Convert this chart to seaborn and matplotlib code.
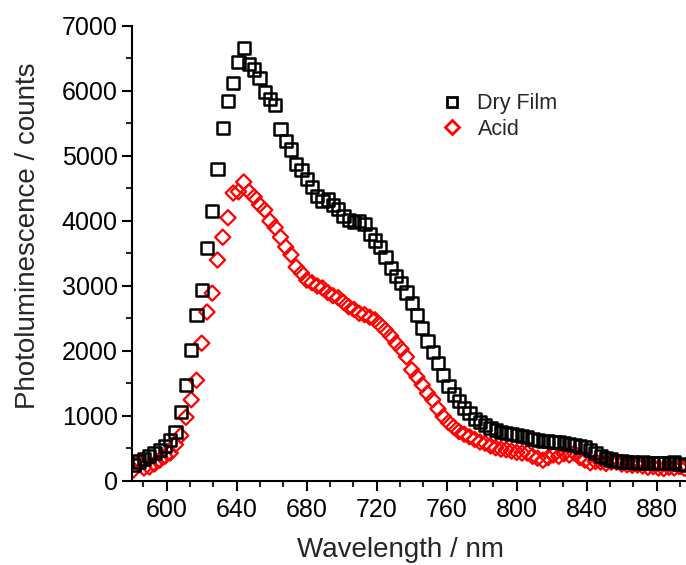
import numpy as np
import pandas as pd
import matplotlib
matplotlib.use("Agg")
import matplotlib.pyplot as plt
from matplotlib.ticker import AutoMinorLocator
from matplotlib.lines import Line2D
import seaborn as sns

wavelength = list(range(581, 897, 3))

dry_film = [
    250, 300, 340, 380, 430, 480, 540, 630, 760, 1060,
    1480, 2020, 2550, 2940, 3580, 4150, 4800, 5430, 5850, 6120,
    6450, 6660, 6420, 6330, 6200, 5990, 5880, 5780, 5420, 5230,
    5100, 4880, 4790, 4650, 4520, 4380, 4310, 4330, 4250, 4180,
    4080, 4020, 3990, 4000, 3950, 3800, 3700, 3600, 3450, 3270,
    3150, 3050, 2900, 2740, 2550, 2360, 2150, 1990, 1810, 1630,
    1460, 1330, 1230, 1120, 1040, 960, 910, 860, 820, 780,
    760, 740, 720, 710, 690, 670, 650, 630, 620, 610,
    600, 600, 590, 570, 550, 530, 520, 480, 430, 380,
    350, 330, 310, 300, 290, 290, 280, 290, 280, 280,
    270, 280, 270, 290, 260, 250,
]

acid = [
    170, 280, 200, 215, 260, 320, 380, 430, 560, 700,
    980, 1250, 1550, 2120, 2600, 2890, 3400, 3750, 4050, 4430,
    4450, 4600, 4450, 4370, 4250, 4170, 4000, 3900, 3750, 3600,
    3480, 3290, 3200, 3090, 3050, 3000, 2970, 2900, 2850, 2820,
    2750, 2680, 2640, 2580, 2560, 2520, 2480, 2400, 2320, 2230,
    2120, 2030, 1910, 1710, 1600, 1480, 1350, 1250, 1110, 990,
    900, 830, 760, 720, 680, 640, 600, 580, 540, 510,
    490, 480, 460, 440, 430, 430, 380, 350, 320, 360,
    400, 380, 420, 400, 430, 360, 320, 280, 300, 290,
    270, 290, 290, 260, 250, 240, 245, 230, 210, 220,
    200, 190, 210, 200, 215, 190,
]

series_names = ["Dry Film", "Acid"]
x_ticks = [600, 640, 680, 720, 760, 800, 840, 880]
y_ticks = [0, 1000, 2000, 3000, 4000, 5000, 6000, 7000]

sns.set_theme(style="ticks")
plt.rcParams["font.family"] = ["Liberation Sans", "DejaVu Sans"]

df_dry = pd.DataFrame({"wl": wavelength, "pl": dry_film})
df_acid = pd.DataFrame({"wl": wavelength, "pl": acid})

fig = plt.figure(figsize=(6.86, 5.65), dpi=100)
ax = fig.add_axes([0.192, 0.1487, 0.8087, 0.8053])

sns.scatterplot(data=df_acid, x="wl", y="pl", ax=ax, marker="D", s=60,
                facecolor="none", edgecolor="#ff0000", linewidth=1.6, zorder=2)
sns.scatterplot(data=df_dry, x="wl", y="pl", ax=ax, marker="s", s=76,
                facecolor="none", edgecolor="black", linewidth=1.8, zorder=3)

ax.set_xlim(580, 897)
ax.set_ylim(0, 7000)
ax.set_xticks(x_ticks)
ax.set_yticks(y_ticks)
ax.xaxis.set_minor_locator(AutoMinorLocator(3))
ax.yaxis.set_minor_locator(AutoMinorLocator(2))
ax.tick_params(which="major", direction="out", length=7, width=1.5,
               labelsize=18, colors="black", pad=3)
ax.tick_params(axis="x", which="major", pad=5)
ax.tick_params(which="minor", direction="out", length=4, width=1.5)
for s in ["top", "right"]:
    ax.spines[s].set_visible(False)
for s in ["left", "bottom"]:
    ax.spines[s].set_linewidth(1.5)
    ax.spines[s].set_color("black")

ax.set_xlabel("Wavelength / nm", fontsize=20)
ax.set_ylabel("Photoluminescence / counts", fontsize=20)
ax.xaxis.set_label_coords(0.484, -0.124)
ax.yaxis.set_label_coords(-0.163, 0.54)

handles = [
    Line2D([], [], linestyle="none", marker="s", markersize=6.5,
           markerfacecolor="none", markeredgecolor="black", markeredgewidth=2.0),
    Line2D([], [], linestyle="none", marker="D", markersize=7,
           markerfacecolor="none", markeredgecolor="#ff0000", markeredgewidth=2.0),
]
ax.legend(handles, series_names, loc="upper left",
          bbox_to_anchor=(0.627, 0.85), bbox_transform=fig.transFigure,
          frameon=False, fontsize=15.5, handlelength=1.2,
          handletextpad=0.6, labelspacing=0.2, borderaxespad=0)

fig.savefig("out.png", dpi=100)
